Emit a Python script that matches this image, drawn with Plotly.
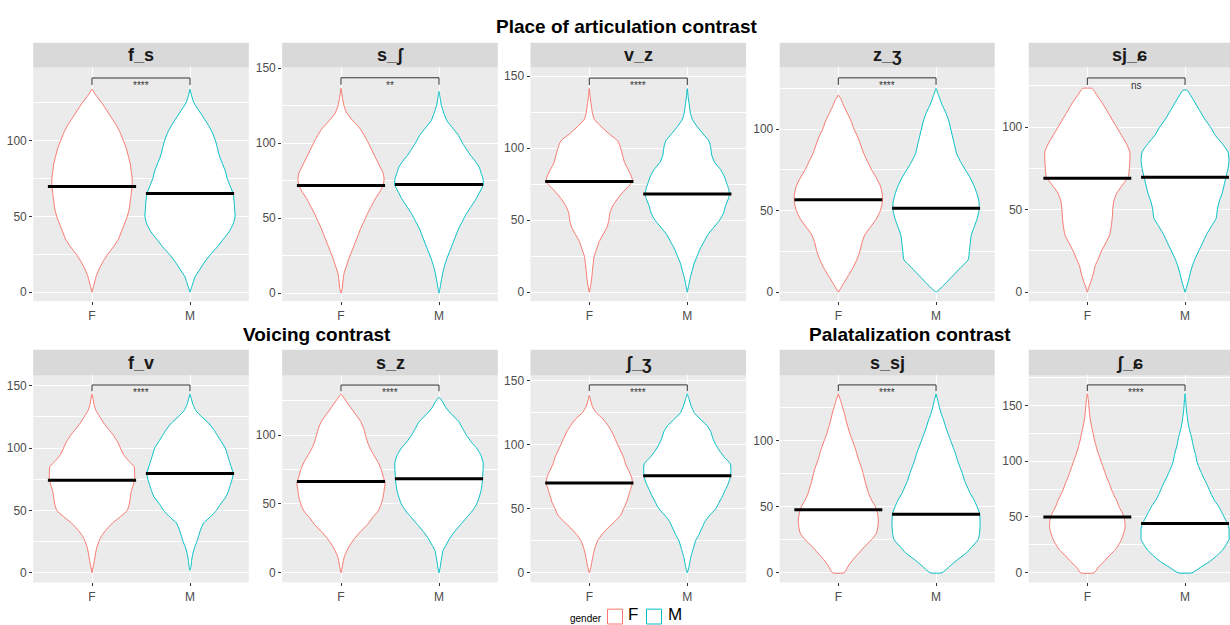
import plotly.graph_objects as go

W, H = 1230, 625

# ---- data -------------------------------------------------------------
panels = ["f_s", "s_ʃ", "v_z", "z_ʒ", "sj_ɕ", "f_v", "s_z", "ʃ_ʒ", "s_sj", "ʃ_ɕ"]
genders = ["F", "M"]
signif = ["****", "**", "****", "****", "ns", "****", "****", "****", "****", "****"]
median_F = [69.7, 71.8, 76.9, 56.7, 69.0, 74.1, 66.4, 70.1, 47.8, 50.0]
median_M = [65.1, 72.5, 68.2, 51.4, 69.6, 79.6, 68.3, 75.8, 44.3, 44.1]
bracket_y = [141.4, 143.6, 148.6, 131.4, 129.8, 150.5, 136.4, 146.6, 142.3, 168.3]

# kernel density profiles: (value, scaled density = violin half-width)
f_s_F = [(0, 0), (5, 0.02), (10, 0.04), (15, 0.07), (20, 0.11), (25, 0.16), (30, 0.22),
         (35, 0.27), (40, 0.30), (45, 0.33), (50, 0.36), (55, 0.38), (60, 0.39), (65, 0.40),
         (70, 0.41), (75, 0.41), (80, 0.40), (85, 0.39), (90, 0.37), (95, 0.35), (100, 0.32),
         (105, 0.29), (110, 0.25), (115, 0.20), (120, 0.15), (125, 0.10), (130, 0.04), (134, 0)]
f_s_M = [(0, 0), (3, 0.015), (7, 0.035), (10, 0.05), (15, 0.10), (20, 0.15), (25, 0.21),
         (30, 0.28), (35, 0.34), (40, 0.40), (45, 0.44), (50, 0.46), (55, 0.455), (60, 0.45),
         (65, 0.44), (70, 0.41), (75, 0.38), (80, 0.36), (85, 0.33), (90, 0.30), (95, 0.28),
         (100, 0.26), (105, 0.23), (110, 0.19), (115, 0.14), (120, 0.09), (125, 0.04),
         (130, 0.015), (134, 0)]
s_sh_F = [(0, 0), (3, 0.012), (8, 0.02), (13, 0.03), (18, 0.055), (23, 0.08), (28, 0.11),
          (33, 0.14), (38, 0.17), (43, 0.20), (48, 0.235), (53, 0.27), (58, 0.31), (63, 0.35),
          (68, 0.40), (72, 0.43), (76, 0.44), (80, 0.43), (84, 0.40), (88, 0.37), (92, 0.34),
          (96, 0.31), (100, 0.28), (105, 0.24), (110, 0.19), (115, 0.12), (120, 0.06),
          (125, 0.03), (130, 0.015), (136.6, 0)]
s_sh_M = [(0, 0), (4, 0.012), (9, 0.025), (14, 0.04), (18, 0.055), (23, 0.08), (28, 0.11),
          (33, 0.14), (38, 0.17), (43, 0.20), (48, 0.24), (53, 0.28), (58, 0.33), (63, 0.38),
          (68, 0.42), (72, 0.45), (76, 0.45), (80, 0.43), (84, 0.41), (88, 0.37), (92, 0.32),
          (96, 0.28), (100, 0.24), (105, 0.20), (110, 0.14), (115, 0.08), (120, 0.05),
          (125, 0.025), (130, 0.012), (134.4, 0)]
v_z_F = [(0, 0), (5, 0.015), (10, 0.025), (15, 0.032), (20, 0.04), (25, 0.05), (30, 0.075),
         (35, 0.10), (40, 0.14), (45, 0.18), (50, 0.20), (55, 0.21), (60, 0.24), (65, 0.29),
         (70, 0.35), (75, 0.42), (78, 0.44), (82, 0.42), (86, 0.39), (90, 0.36), (95, 0.34),
         (100, 0.32), (105, 0.29), (110, 0.20), (115, 0.12), (120, 0.05), (125, 0.03),
         (130, 0.02), (135, 0.01), (141.3, 0)]
v_z_M = [(0, 0), (5, 0.015), (10, 0.03), (15, 0.05), (20, 0.07), (25, 0.10), (30, 0.13),
         (35, 0.17), (40, 0.21), (45, 0.27), (50, 0.33), (55, 0.37), (60, 0.39), (65, 0.42),
         (68, 0.43), (72, 0.42), (76, 0.40), (80, 0.38), (85, 0.34), (90, 0.28), (95, 0.25),
         (100, 0.24), (105, 0.22), (110, 0.16), (115, 0.10), (120, 0.05), (125, 0.03),
         (130, 0.02), (135, 0.01), (141.3, 0)]
z_zh_F = [(0, 0), (3, 0.03), (6, 0.06), (10, 0.10), (15, 0.15), (20, 0.19), (25, 0.22),
          (30, 0.24), (35, 0.27), (40, 0.33), (45, 0.39), (50, 0.43), (55, 0.45), (60, 0.45),
          (65, 0.43), (70, 0.39), (75, 0.34), (80, 0.30), (85, 0.26), (90, 0.23), (95, 0.20),
          (100, 0.16), (105, 0.13), (110, 0.09), (115, 0.05), (118, 0.03), (120.9, 0)]
z_zh_M = [(0, 0), (2, 0.04), (5, 0.09), (10, 0.17), (15, 0.25), (20, 0.33), (25, 0.34),
          (30, 0.35), (35, 0.36), (40, 0.39), (45, 0.42), (50, 0.44), (55, 0.44), (60, 0.42),
          (65, 0.39), (70, 0.35), (75, 0.30), (80, 0.25), (85, 0.21), (90, 0.19), (95, 0.17),
          (100, 0.15), (105, 0.13), (110, 0.10), (115, 0.06), (120, 0.03), (124.9, 0)]
sj_sh_F = [(0, 0), (3, 0.015), (7, 0.04), (12, 0.065), (16, 0.08), (20, 0.11), (25, 0.145),
           (30, 0.19), (35, 0.23), (40, 0.245), (45, 0.255), (50, 0.26), (55, 0.27), (60, 0.30),
           (65, 0.36), (70, 0.42), (75, 0.43), (80, 0.435), (85, 0.435), (90, 0.40), (95, 0.35),
           (100, 0.30), (105, 0.25), (110, 0.20), (115, 0.15), (120, 0.09), (123.4, 0.05)]
sj_sh_M = [(0, 0), (3, 0.015), (7, 0.035), (12, 0.055), (16, 0.075), (20, 0.10), (25, 0.14),
           (30, 0.18), (35, 0.22), (40, 0.27), (45, 0.32), (50, 0.33), (55, 0.35), (60, 0.38),
           (65, 0.40), (70, 0.42), (75, 0.44), (80, 0.45), (85, 0.44), (90, 0.38), (95, 0.31),
           (100, 0.26), (105, 0.20), (110, 0.15), (115, 0.10), (120, 0.05), (122.4, 0.02)]
f_v_F = [(0, 0), (5, 0.012), (10, 0.025), (15, 0.035), (20, 0.048), (25, 0.07), (30, 0.10),
         (35, 0.15), (40, 0.21), (45, 0.29), (50, 0.36), (55, 0.38), (60, 0.39), (65, 0.40),
         (70, 0.42), (75, 0.435), (80, 0.435), (85, 0.43), (90, 0.37), (95, 0.32), (100, 0.29),
         (105, 0.26), (110, 0.22), (115, 0.17), (120, 0.12), (125, 0.08), (130, 0.04),
         (135, 0.02), (140, 0.01), (143.4, 0)]
f_v_M = [(2, 0), (5, 0.01), (10, 0.017), (15, 0.028), (20, 0.045), (25, 0.07), (30, 0.09),
         (35, 0.11), (40, 0.14), (45, 0.21), (50, 0.27), (55, 0.31), (60, 0.36), (65, 0.39),
         (70, 0.41), (75, 0.43), (80, 0.44), (85, 0.42), (90, 0.40), (95, 0.38), (100, 0.36),
         (105, 0.32), (110, 0.28), (115, 0.24), (120, 0.19), (125, 0.12), (130, 0.06),
         (135, 0.03), (140, 0.012), (143.4, 0)]
s_z_F = [(0, 0), (4, 0.012), (8, 0.022), (12, 0.035), (16, 0.06), (20, 0.09), (25, 0.14),
         (30, 0.20), (35, 0.27), (40, 0.32), (45, 0.38), (50, 0.41), (55, 0.43), (60, 0.44),
         (65, 0.45), (70, 0.43), (75, 0.41), (80, 0.38), (85, 0.34), (90, 0.30), (95, 0.27),
         (100, 0.25), (105, 0.23), (110, 0.20), (115, 0.15), (120, 0.10), (125, 0.05), (130, 0)]
s_z_M = [(0, 0), (4, 0.012), (8, 0.02), (12, 0.03), (16, 0.04), (20, 0.07), (25, 0.11),
         (30, 0.16), (35, 0.22), (40, 0.28), (45, 0.34), (50, 0.385), (55, 0.41), (60, 0.43),
         (65, 0.44), (70, 0.445), (75, 0.45), (80, 0.45), (85, 0.43), (90, 0.39), (95, 0.33),
         (100, 0.28), (105, 0.24), (110, 0.20), (115, 0.13), (120, 0.07), (125, 0.03),
         (127.6, 0)]
sh_zh_F = [(0, 0), (4, 0.015), (8, 0.025), (12, 0.035), (16, 0.045), (20, 0.06), (25, 0.085),
           (30, 0.13), (35, 0.19), (40, 0.26), (45, 0.32), (50, 0.35), (55, 0.38), (60, 0.40),
           (65, 0.42), (70, 0.44), (75, 0.43), (80, 0.40), (85, 0.37), (90, 0.35), (95, 0.32),
           (100, 0.29), (105, 0.26), (110, 0.23), (115, 0.19), (120, 0.14), (125, 0.07),
           (130, 0.03), (135, 0.012), (138.4, 0)]
sh_zh_M = [(0, 0), (4, 0.015), (8, 0.025), (12, 0.035), (16, 0.05), (20, 0.065), (25, 0.085),
           (30, 0.12), (35, 0.15), (40, 0.18), (45, 0.23), (50, 0.29), (55, 0.325), (60, 0.36),
           (65, 0.39), (70, 0.42), (75, 0.44), (80, 0.445), (85, 0.44), (90, 0.38), (95, 0.33),
           (100, 0.29), (105, 0.26), (110, 0.24), (115, 0.20), (120, 0.13), (125, 0.07),
           (130, 0.04), (135, 0.02), (139.7, 0)]
s_sj_F = [(0, 0.06), (5, 0.10), (10, 0.15), (15, 0.21), (20, 0.27), (25, 0.34), (30, 0.39),
          (35, 0.405), (40, 0.41), (45, 0.40), (50, 0.38), (55, 0.34), (60, 0.31), (65, 0.29),
          (70, 0.27), (75, 0.255), (80, 0.235), (85, 0.21), (90, 0.19), (95, 0.17),
          (100, 0.145), (105, 0.12), (110, 0.10), (115, 0.08), (120, 0.065), (125, 0.045),
          (130, 0.025), (135.5, 0)]
s_sj_M = [(0, 0.06), (5, 0.14), (10, 0.22), (15, 0.31), (20, 0.37), (25, 0.43), (30, 0.445),
          (35, 0.45), (40, 0.45), (45, 0.445), (50, 0.42), (55, 0.39), (60, 0.35), (65, 0.32),
          (70, 0.29), (75, 0.27), (80, 0.245), (85, 0.22), (90, 0.20), (95, 0.175),
          (100, 0.15), (105, 0.125), (110, 0.10), (115, 0.08), (120, 0.055), (125, 0.035),
          (130, 0.02), (135.5, 0)]
sh_sj_F = [(0, 0.07), (5, 0.11), (10, 0.17), (15, 0.22), (20, 0.28), (25, 0.32), (30, 0.35),
           (35, 0.37), (40, 0.385), (45, 0.385), (50, 0.375), (55, 0.35), (60, 0.32), (65, 0.30),
           (70, 0.27), (75, 0.245), (80, 0.225), (85, 0.20), (90, 0.18), (95, 0.16),
           (100, 0.14), (105, 0.12), (110, 0.10), (115, 0.085), (120, 0.07), (125, 0.06),
           (130, 0.045), (135, 0.035), (140, 0.025), (145, 0.02), (150, 0.015), (155, 0.01),
           (160.4, 0)]
sh_sj_M = [(0, 0.07), (5, 0.16), (10, 0.25), (15, 0.32), (20, 0.38), (25, 0.42), (30, 0.45),
           (35, 0.45), (40, 0.45), (45, 0.43), (50, 0.40), (55, 0.37), (60, 0.34), (65, 0.30),
           (70, 0.27), (75, 0.245), (80, 0.22), (85, 0.19), (90, 0.165), (95, 0.14),
           (100, 0.12), (105, 0.11), (110, 0.095), (115, 0.08), (120, 0.07), (125, 0.055),
           (130, 0.04), (135, 0.03), (140, 0.022), (145, 0.015), (150, 0.01), (155, 0.006),
           (160.4, 0)]

densities = [
    (f_s_F, f_s_M), (s_sh_F, s_sh_M), (v_z_F, v_z_M), (z_zh_F, z_zh_M), (sj_sh_F, sj_sh_M),
    (f_v_F, f_v_M), (s_z_F, s_z_M), (sh_zh_F, sh_zh_M), (s_sj_F, s_sj_M), (sh_sj_F, sh_sj_M),
]

group_titles = ["Place of articulation contrast", "Voicing contrast", "Palatalization contrast"]

# ---- layout geometry (pixels) ------------------------------------------
COLORS = {"F": "#F8766D", "M": "#00BFC4"}
FONT = "Liberation Sans, Arial, sans-serif"
col_px = [(33.2, 248.8), (282.2, 497.8), (530.5, 746.1), (779.7, 994.7), (1028.7, 1230.0)]
x_ranges = [[0.4, 2.6]] * 4 + [[0.4, 2.46]]
row_px = [(62, 298), (373, 582)]        # panel top / bottom
strip_px = [(37, 62), (347, 373)]       # strip top / bottom
y_ranges = [[-5.9, 148.4], [-5.3, 150.5], [-6.2, 156.0], [-5.5, 137.8], [-5.4, 136.2],
            [-7.7, 158.2], [-7.0, 143.4], [-7.5, 154.0], [-7.3, 149.5], [-8.6, 176.8]]


def px(x):
    return x / W


def py(y):
    return 1 - y / H


fig = go.Figure()
annotations = []
shapes = []
layout_axes = {}

for i, name in enumerate(panels):
    n = i + 1
    r, c = divmod(i, 5)
    xa = "x" if n == 1 else f"x{n}"
    ya = "y" if n == 1 else f"y{n}"
    xkey = "xaxis" if n == 1 else f"xaxis{n}"
    ykey = "yaxis" if n == 1 else f"yaxis{n}"
    x0, x1 = col_px[c]
    top, bot = row_px[r]

    layout_axes[xkey] = dict(
        domain=[px(x0), px(x1)], range=x_ranges[c], anchor=ya,
        tickmode="array", tickvals=[1, 2], ticktext=genders,
        showgrid=True, gridcolor="white", gridwidth=1.1, zeroline=False,
        showline=False, ticks="outside", ticklen=3, tickwidth=1, tickcolor="#333333",
        tickfont=dict(family=FONT, size=12, color="#4D4D4D"), fixedrange=True,
    )
    layout_axes[ykey] = dict(
        domain=[py(bot), py(top)], range=y_ranges[i], anchor=xa,
        tick0=0, dtick=50, showgrid=True, gridcolor="white", gridwidth=1.1,
        minor=dict(tick0=0, dtick=25, showgrid=True, gridcolor="white", gridwidth=0.55, ticks=""),
        zeroline=False, showline=False, ticks="outside", ticklen=3, tickwidth=1,
        tickcolor="#333333", tickfont=dict(family=FONT, size=12, color="#4D4D4D"),
        fixedrange=True,
    )

    # violins
    for pos, g, dens in zip([1, 2], genders, densities[i]):
        vals = [p[0] for p in dens]
        half = [p[1] for p in dens]
        xs = [pos + w for w in half] + [pos - w for w in reversed(half)]
        ys = vals + vals[::-1]
        xs.append(xs[0])
        ys.append(ys[0])
        fig.add_trace(go.Scatter(
            x=xs, y=ys, xaxis=xa, yaxis=ya, mode="lines", fill="toself",
            fillcolor="white", line=dict(color=COLORS[g], width=1, shape="spline", smoothing=0.5),
            showlegend=False, hoverinfo="skip",
        ))

    # medians (crossbar of width 0.9)
    for pos, m in zip([1, 2], [median_F[i], median_M[i]]):
        fig.add_trace(go.Scatter(
            x=[pos - 0.45, pos + 0.45], y=[m, m], xaxis=xa, yaxis=ya, mode="lines",
            line=dict(color="black", width=3), showlegend=False, hoverinfo="skip",
        ))

    # significance bracket
    b = bracket_y[i]
    tip = 0.03 * (y_ranges[i][1] - y_ranges[i][0])
    fig.add_trace(go.Scatter(
        x=[1, 1, 2, 2], y=[b - tip, b, b, b - tip], xaxis=xa, yaxis=ya, mode="lines",
        line=dict(color="#333333", width=1), showlegend=False, hoverinfo="skip",
    ))
    annotations.append(dict(
        x=1.5, y=b, xref=xa, yref=ya, text=signif[i], showarrow=False,
        yanchor="top", yshift=0, font=dict(family=FONT, size=10, color="#333333"),
    ))

    # facet strip
    s0, s1 = strip_px[r]
    shapes.append(dict(type="rect", xref="paper", yref="paper", x0=px(x0), x1=px(x1),
                       y0=py(s1), y1=py(s0), fillcolor="#D9D9D9", line=dict(width=0),
                       layer="below"))
    annotations.append(dict(
        x=px((x0 + min(x1, x0 + 215.6)) / 2), y=py((s0 + s1) / 2), xref="paper", yref="paper",
        text=f"<b>{name}</b>", showarrow=False, xanchor="center", yanchor="middle",
        font=dict(family=FONT, size=18, color="#1A1A1A"),
    ))

# group titles
for text, cx, cy in zip(group_titles, [626.5, 316.7, 910.0], [21, 332, 332]):
    annotations.append(dict(
        x=px(cx), y=py(cy), xref="paper", yref="paper", text=f"<b>{text}</b>",
        showarrow=False, xanchor="center", yanchor="middle",
        font=dict(family=FONT, size=19, color="black"),
    ))

# legend
annotations.append(dict(x=px(586), y=py(618), xref="paper", yref="paper", text="gender",
                        showarrow=False, xanchor="center", yanchor="middle",
                        font=dict(family=FONT, size=10, color="black")))
for g, bx, tx in zip(genders, [607.5, 646.5], [633, 674.5]):
    shapes.append(dict(type="rect", xref="paper", yref="paper", x0=px(bx), x1=px(bx + 15),
                       y0=py(624), y1=py(609), fillcolor="white",
                       line=dict(color=COLORS[g], width=1)))
    annotations.append(dict(x=px(tx), y=py(614.5), xref="paper", yref="paper", text=g,
                            showarrow=False, xanchor="center", yanchor="middle",
                            font=dict(family=FONT, size=17, color="black")))

fig.update_layout(
    width=W, height=H, margin=dict(l=0, r=0, t=0, b=0),
    paper_bgcolor="white", plot_bgcolor="#EBEBEB",
    annotations=annotations, shapes=shapes, showlegend=False,
    **layout_axes,
)

fig.write_html("out.html")
